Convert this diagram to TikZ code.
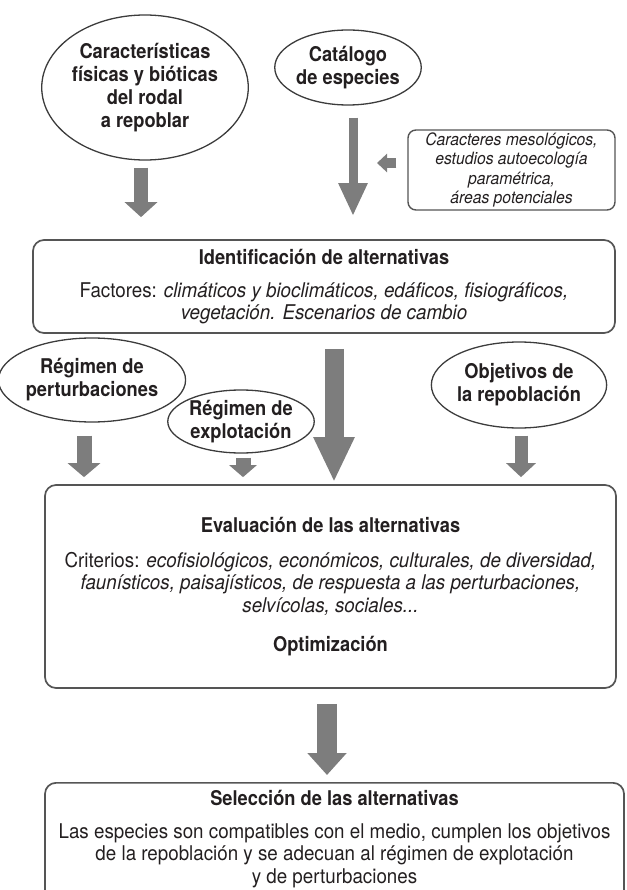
\documentclass[tikz,border=0pt]{standalone}
\usepackage{fontspec}
\setmainfont{TeX Gyre Heros}[FakeStretch=0.925, BoldFeatures={FakeStretch=0.9}]
\usetikzlibrary{shapes.geometric,arrows.meta}
\definecolor{gris}{RGB}{125,125,125}
\definecolor{borde}{RGB}{85,85,85}
\definecolor{tinta}{RGB}{35,31,32}
\begin{document}
\begin{tikzpicture}[x=1pt, y=-1pt,
    elipse/.style={ellipse, draw=borde!70!black, line width=1.3pt, inner sep=0pt,
        align=center, text=tinta, font=\bfseries\fontsize{20.3}{23}\selectfont},
    caja/.style={rectangle, rounded corners=11pt, draw=borde, line width=1.7pt,
        inner sep=0pt, align=center, text=tinta, font=\fontsize{20.3}{22.5}\selectfont},
    flecha/.style n args={3}{draw=gris, line width=#1, -{Triangle[width=#2,length=#3]}}]
    \clip (0,0) rectangle (626,890);
    % elipses de arriba
    \node[elipse, minimum width=200, minimum height=145] (car) at (145,87.5)
        {Características\\físicas y bióticas\\del rodal\\a repoblar};
    \node[elipse, minimum width=140, minimum height=75] (cat) at (348,67.5)
        {Catálogo\\de especies};
    \node[caja, rounded corners=8pt, line width=1.4pt, minimum width=207, minimum height=80,
        font=\itshape\fontsize{17}{19.5}\selectfont] (mes) at (511.5,170)
        {Caracteres mesológicos,\\estudios autoecología\\paramétrica,\\áreas potenciales};
    % identificacion
    \node[caja, minimum width=582, minimum height=93] (ident) at (324,286.5)
        {\textbf{Identificación de alternativas}\\[10.5pt]
         Factores: \textit{climáticos y bioclimáticos, edáficos, fisiográficos,}\\
         \textit{vegetación. Escenarios de cambio}};
    % elipses del medio
    \node[elipse, minimum width=163, minimum height=84] (pert) at (92,380)
        {Régimen de\\perturbaciones};
    \node[elipse, minimum width=133, minimum height=63] (expl) at (241,421.5)
        {Régimen de\\explotación};
    \node[elipse, minimum width=162, minimum height=86] (obj) at (519,385)
        {Objetivos de\\la repoblación};
    % evaluacion
    \node[caja, minimum width=571, minimum height=203] (eval) at (330.5,586.5)
        {\textbf{Evaluación de las alternativas}\\[12.5pt]
         Criterios: \textit{ecofisiológicos, económicos, culturales, de diversidad,}\\
         \textit{faunísticos, paisajísticos, de respuesta a las perturbaciones,}\\
         \textit{selvícolas, sociales...}\\[17pt]
         \textbf{Optimización}};
    % seleccion
    \node[caja, anchor=north, minimum width=579, inner ysep=7pt] (sel) at (334.5,782)
        {\textbf{Selección de las alternativas}\\[10.5pt]
         Las especies son compatibles con el medio, cumplen los objetivos\\
         de la repoblación y se adecuan al régimen de explotación\\
         y de perturbaciones\\[24pt]\strut};
    % flechas
    \draw[flecha={14pt}{32pt}{15pt}, shorten <=7pt, shorten >=22pt]
        ([xshift=-4pt]car.south) -- ([xshift=-4pt]car.south |- ident.north);
    \draw[flecha={9pt}{27pt}{33pt}, shorten <=12pt, shorten >=23pt]
        ([xshift=5pt]cat.south) -- ([xshift=5pt]cat.south |- ident.north);
    \draw[flecha={10pt}{18pt}{10pt}, shorten <=11pt, shorten >=29pt]
        ([yshift=7pt]mes.west) -- ([yshift=7pt]mes.west -| cat.south);
    \draw[flecha={19pt}{38pt}{45pt}, shorten <=15pt, shorten >=2pt]
        ([xshift=10pt]ident.south) -- ([xshift=10pt]ident.south |- eval.north);
    \draw[flecha={15pt}{32pt}{14pt}, shorten <=13pt, shorten >=7pt]
        ([xshift=-8pt]pert.south) -- ([xshift=-8pt]pert.south |- eval.north);
    \draw[flecha={15pt}{27pt}{12pt}, shorten <=4pt, shorten >=7pt]
        ([xshift=2pt]expl.south) -- ([xshift=2pt]expl.south |- eval.north);
    \draw[flecha={13pt}{29pt}{14pt}, shorten <=7pt, shorten >=7pt]
        ([xshift=2pt]obj.south) -- ([xshift=2pt]obj.south |- eval.north);
    \draw[flecha={20pt}{38pt}{22pt}, shorten <=15pt, shorten >=7pt]
        ([xshift=-3.5pt]eval.south) -- ([xshift=-3.5pt]eval.south |- sel.north);
\end{tikzpicture}
\end{document}
